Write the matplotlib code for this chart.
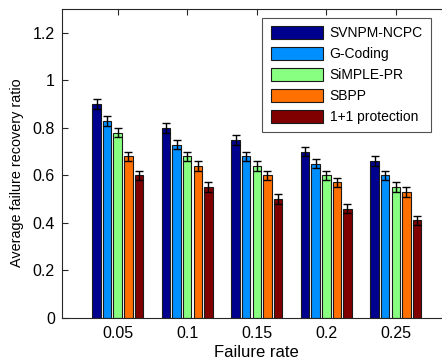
import matplotlib
matplotlib.use("Agg")
import matplotlib.pyplot as plt
import numpy as np

plt.rcParams['font.family'] = ['Liberation Sans', 'DejaVu Sans']

failure_rates = [0.05, 0.1, 0.15, 0.2, 0.25]
tick_labels = ['0.05', '0.1', '0.15', '0.2', '0.25']
series_names = ['SVNPM-NCPC', 'G-Coding', 'SiMPLE-PR', 'SBPP', '1+1 protection']
svnpm = [0.90, 0.80, 0.75, 0.70, 0.66]
gcoding = [0.83, 0.73, 0.68, 0.65, 0.60]
simple_pr = [0.78, 0.68, 0.64, 0.60, 0.55]
sbpp = [0.68, 0.64, 0.60, 0.57, 0.53]
one_plus_one = [0.60, 0.55, 0.50, 0.46, 0.41]
errors = [0.02, 0.02, 0.02, 0.02, 0.02]

series = [svnpm, gcoding, simple_pr, sbpp, one_plus_one]
colors = ['#00008F', '#008FFF', '#88FF80', '#FF7000', '#800000']

fig = plt.figure(figsize=(4.42, 3.62), dpi=100)
ax = fig.add_axes([61.7/442, 1-317.7/362, (451.8-61.7)/442, (317.7-9.3)/362])

n = len(series)
step = 0.00763
width = 0.0061
x = np.array(failure_rates)
for i, (vals, c, name) in enumerate(zip(series, colors, series_names)):
    off = (i - (n-1)/2) * step
    ax.bar(x + off, vals, width=width, color=c, edgecolor='#1a1a1a', linewidth=0.8,
           label=name, zorder=2)
    ax.errorbar(x + off, vals, yerr=errors, fmt='none', ecolor='black',
                elinewidth=1.0, capsize=2.6, capthick=1.0, zorder=3)

ax.set_xlim(0.0097, 0.2903)
ax.set_ylim(0, 1.3)
ax.set_xticks(failure_rates)
ax.set_xticklabels(tick_labels)
ax.set_yticks([0, 0.2, 0.4, 0.6, 0.8, 1.0, 1.2])
ax.set_yticklabels(['0', '0.2', '0.4', '0.6', '0.8', '1', '1.2'])
ax.tick_params(axis='both', direction='in', length=4, width=0.8, labelsize=11.5,
               top=True, right=True, colors='#262626', labelcolor='black')
ax.tick_params(axis='y', pad=5)
ax.tick_params(axis='x', pad=6)
for s in ax.spines.values():
    s.set_color('#262626')
    s.set_linewidth(0.8)

ax.set_xlabel('Failure rate', fontsize=12, labelpad=3)
ax.set_ylabel('Average failure recovery ratio', fontsize=10.4)
ax.yaxis.set_label_coords(-0.097, 0.47)

leg = ax.legend(loc='upper right', bbox_to_anchor=(431/442, 1-18/362),
                bbox_transform=fig.transFigure, borderaxespad=0, fontsize=10,
                frameon=True, fancybox=False, handlelength=3.8, handleheight=1.0,
                handletextpad=0.45, labelspacing=0.5, borderpad=0.6)
leg.get_frame().set_edgecolor('#262626')
leg.get_frame().set_linewidth(0.8)

fig.savefig('out.png', dpi=100)
